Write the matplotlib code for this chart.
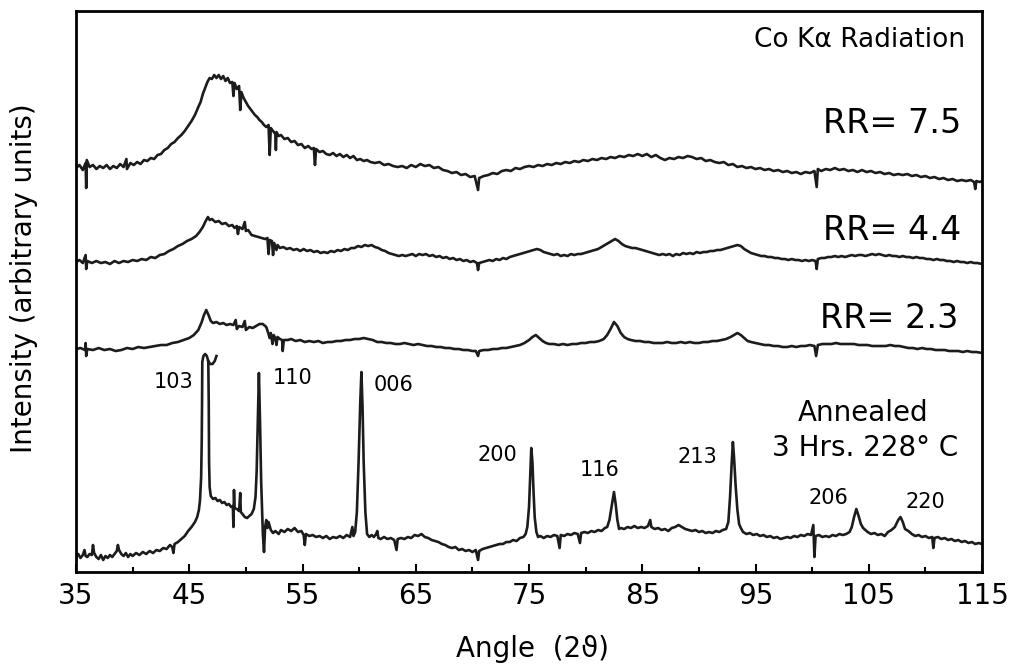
import matplotlib
matplotlib.use('Agg')
import matplotlib.pyplot as plt

rr75 = [(35.0,404),(35.3,407),(35.6,402),(35.85,409),(35.9,384),(35.95,412),(36.2,405),(36.5,407),(36.8,403),
        (37.1,406),(37.4,404),(37.7,407),(38.0,403),(38.3,406),(38.6,404),(38.9,408),(39.2,405),(39.45,413),
        (39.5,403),(39.8,409),(40.1,407),(40.4,410),(40.7,408),(41.0,412),(41.3,411),(41.6,414),(41.9,413),
        (42.2,417),(42.5,418),(42.8,422),(43.1,424),(43.4,428),(43.7,430),(44.0,434),(44.3,437),(44.6,441),
        (44.9,446),(45.2,451),(45.5,457),(45.8,465),(46.0,470),(46.2,478),(46.4,484),(46.6,490),(46.8,494),
        (47.0,493),(47.2,497),(47.4,494),(47.6,497),(47.8,493),(48.0,496),(48.2,491),(48.4,494),(48.6,489),
        (48.8,490),(48.9,476),(49.0,489),(49.2,483),(49.4,486),(49.5,462),(49.6,480),(49.8,474),(50.0,470),
        (50.2,466),(50.4,463),(50.6,460),(50.8,457),(51.0,455),(51.2,452),(51.4,450),(51.6,447),(51.8,445),
        (52.0,447),(52.1,417),(52.2,444),(52.4,441),(52.6,438),(52.65,422),(52.7,440),(52.9,436),(53.1,437),
        (53.4,433),(53.7,434),(54.0,430),(54.3,431),(54.6,427),(54.9,428),(55.2,424),(55.5,426),(55.8,423),
        (56.0,424),(56.1,407),(56.2,423),(56.5,420),(56.8,421),(57.1,418),(57.4,417),(57.7,419),(58.0,416),
        (58.3,418),(58.6,415),(58.9,417),(59.2,414),(59.5,416),(59.8,412),(60.1,413),(60.4,411),(60.7,412),
        (61.0,410),(61.4,409),(61.8,410),(62.2,407),(62.6,408),(63.0,406),(63.4,405),(63.8,406),(64.2,404),
        (64.6,407),(65.0,405),(65.4,408),(65.8,406),(66.2,407),(66.6,404),(67.0,405),(67.4,402),(67.8,401),
        (68.2,399),(68.6,400),(69.0,397),(69.4,398),(69.8,395),(70.2,396),(70.5,382),(70.6,394),(71.0,396),
        (71.4,397),(71.8,399),(72.2,398),(72.6,401),(73.0,402),(73.4,401),(73.8,404),(74.2,403),(74.6,405),
        (75.0,406),(75.4,405),(75.8,407),(76.2,406),(76.6,408),(77.0,407),(77.4,409),(77.8,408),(78.2,410),
        (78.6,409),(79.0,411),(79.4,410),(79.8,412),(80.2,411),(80.6,413),(81.0,412),(81.4,414),(81.8,413),
        (82.2,415),(82.6,414),(83.0,416),(83.4,415),(83.8,417),(84.2,416),(84.6,418),(85.0,416),(85.4,418),
        (85.8,415),(86.2,417),(86.6,414),(87.0,412),(87.4,414),(87.8,413),(88.2,415),(88.6,414),(89.0,416),
        (89.4,415),(89.8,413),(90.2,414),(90.6,411),(91.0,412),(91.4,410),(91.8,409),(92.2,410),(92.6,407),
        (93.0,408),(93.4,405),(93.8,406),(94.2,404),(94.6,405),(95.0,403),(95.4,404),(95.8,402),(96.2,403),
        (96.6,401),(97.0,402),(97.4,400),(97.8,401),(98.2,399),(98.6,400),(99.0,398),(99.4,400),(99.8,399),
        (100.2,401),(100.4,385),(100.5,403),(100.8,401),(101.2,403),(101.6,402),(102.0,404),(102.4,402),
        (102.8,403),(103.2,401),(103.6,402),(104.0,400),(104.4,402),(104.8,400),(105.2,401),(105.6,399),
        (106.0,400),(106.4,398),(106.8,399),(107.2,397),(107.6,398),(108.0,397),(108.4,398),(108.8,396),
        (109.2,397),(109.6,395),(110.0,396),(110.4,394),(110.8,395),(111.2,393),(111.6,394),(112.0,392),
        (112.4,393),(112.8,391),(113.2,392),(113.6,391),(114.0,392),(114.3,390),(114.4,383),(114.5,391),
        (114.8,390),(115.0,391)]

rr44 = [(35.0,310),(35.3,312),(35.6,309),(35.85,317),(35.9,303),(36.0,311),(36.4,309),(36.8,311),(37.2,309),
        (37.6,310),(38.0,308),(38.4,311),(38.8,309),(39.2,311),(39.6,310),(40.0,312),(40.4,311),(40.8,313),
        (41.2,312),(41.6,315),(42.0,314),(42.4,317),(42.8,318),(43.2,321),(43.6,323),(44.0,326),(44.4,328),
        (44.8,331),(45.2,333),(45.6,336),(45.9,340),(46.2,345),(46.45,351),(46.65,355),(46.8,352),(47.0,353),
        (47.3,350),(47.6,351),(47.9,348),(48.2,349),(48.5,346),(48.8,347),(49.0,344),(49.2,346),(49.3,338),
        (49.4,345),(49.7,343),(49.9,350),(50.0,341),(50.2,342),(50.5,337),(50.8,336),(51.1,335),(51.4,334),
        (51.7,333),(51.9,334),(52.0,318),(52.1,332),(52.3,331),(52.4,317),(52.5,329),(52.7,322),(52.8,327),
        (53.0,324),(53.3,325),(53.6,323),(53.9,324),(54.2,322),(54.5,323),(54.8,321),(55.1,323),(55.4,321),
        (55.7,322),(56.0,320),(56.3,321),(56.6,319),(56.9,320),(57.2,319),(57.5,321),(57.8,320),(58.1,322),
        (58.4,321),(58.7,323),(59.0,322),(59.3,324),(59.6,324),(59.9,326),(60.2,325),(60.5,327),(60.8,326),
        (61.1,327),(61.4,325),(61.7,324),(62.0,322),(62.3,321),(62.6,319),(62.9,318),(63.2,317),(63.5,316),
        (63.8,317),(64.1,316),(64.4,317),(64.7,318),(65.0,316),(65.3,318),(65.6,317),(65.9,318),(66.2,316),
        (66.5,317),(66.8,315),(67.1,316),(67.4,314),(67.7,315),(68.0,313),(68.3,314),(68.6,312),(68.9,313),
        (69.2,311),(69.5,312),(69.8,310),(70.1,311),(70.4,309),(70.5,302),(70.6,309),(70.9,310),(71.2,311),
        (71.5,312),(71.8,311),(72.1,313),(72.4,312),(72.7,314),(73.0,313),(73.3,315),(73.6,316),(73.9,317),
        (74.2,318),(74.5,319),(74.8,320),(75.1,321),(75.4,322),(75.7,323),(76.0,322),(76.3,320),(76.6,319),
        (76.9,318),(77.2,317),(77.5,318),(77.8,316),(78.1,317),(78.4,316),(78.7,318),(79.0,317),(79.3,318),
        (79.6,318),(79.9,319),(80.2,320),(80.5,321),(80.8,322),(81.1,323),(81.4,325),(81.7,327),(82.0,329),
        (82.3,331),(82.6,333),(82.9,331),(83.2,328),(83.5,326),(83.8,325),(84.1,324),(84.4,324),(84.7,323),
        (85.0,322),(85.3,321),(85.6,320),(85.9,319),(86.2,318),(86.5,317),(86.8,318),(87.1,317),(87.4,318),
        (87.7,316),(88.0,318),(88.3,317),(88.6,319),(88.9,318),(89.2,319),(89.5,318),(89.8,320),(90.1,319),
        (90.4,320),(90.7,320),(91.0,321),(91.3,321),(91.6,322),(91.9,322),(92.2,323),(92.5,324),(92.8,325),
        (93.1,326),(93.4,327),(93.7,326),(94.0,323),(94.3,321),(94.6,319),(94.9,318),(95.2,317),(95.5,316),
        (95.8,316),(96.1,315),(96.4,315),(96.7,314),(97.0,314),(97.3,313),(97.6,313),(97.9,312),(98.2,313),
        (98.5,312),(98.8,312),(99.1,311),(99.4,312),(99.7,311),(100.0,312),(100.3,311),(100.4,303),
        (100.5,313),(100.8,314),(101.1,314),(101.4,315),(101.7,315),(102.0,316),(102.3,315),(102.6,316),
        (102.9,315),(103.2,316),(103.5,317),(103.8,316),(104.1,317),(104.4,317),(104.7,316),(105.0,317),
        (105.3,318),(105.6,317),(105.9,318),(106.2,317),(106.5,316),(106.8,317),(107.1,316),(107.4,316),
        (107.7,315),(108.0,316),(108.3,315),(108.6,315),(108.9,314),(109.2,315),(109.5,314),(109.8,314),
        (110.1,313),(110.4,313),(110.7,312),(111.0,313),(111.3,312),(111.6,312),(111.9,311),(112.2,311),
        (112.5,310),(112.8,311),(113.1,310),(113.4,310),(113.7,309),(114.0,310),(114.3,309),(114.6,309),
        (115.0,308)]

rr23 = [(35.0,223),(35.4,224),(35.8,222),(35.85,229),(35.9,216),(36.0,223),(36.5,222),(37.0,224),(37.5,222),
        (38.0,223),(38.5,221),(39.0,222),(39.5,224),(40.0,223),(40.5,225),(41.0,224),(41.5,225),(42.0,226),
        (42.5,227),(43.0,227),(43.5,229),(44.0,230),(44.5,232),(45.0,234),(45.4,237),(45.8,242),(46.1,250),
        (46.3,257),(46.5,262),(46.7,257),(46.9,251),(47.1,249),(47.4,250),(47.7,248),(48.0,249),(48.3,247),
        (48.6,248),(48.9,247),(49.1,252),(49.2,243),(49.4,246),(49.7,245),(49.9,251),(50.0,242),(50.3,245),
        (50.6,244),(50.9,246),(51.2,248),(51.5,248),(51.8,245),(52.0,238),(52.1,234),(52.2,239),(52.35,228),
        (52.45,237),(52.6,234),(52.7,227),(52.8,235),(53.0,233),(53.2,232),(53.25,221),(53.35,232),(53.7,232),
        (54.0,233),(54.4,231),(54.8,232),(55.2,230),(55.6,231),(56.0,230),(56.4,231),(56.8,229),(57.2,230),
        (57.6,230),(58.0,231),(58.4,231),(58.8,232),(59.2,232),(59.6,233),(60.0,233),(60.4,234),(60.8,233),
        (61.2,232),(61.6,230),(62.0,230),(62.4,229),(62.8,229),(63.2,228),(63.6,228),(64.0,229),(64.4,228),
        (64.8,227),(65.2,228),(65.6,227),(66.0,226),(66.4,226),(66.8,225),(67.2,225),(67.6,224),(68.0,224),
        (68.4,223),(68.8,223),(69.2,222),(69.6,222),(70.0,221),(70.3,221),(70.5,216),(70.6,221),(71.0,222),
        (71.4,222),(71.8,223),(72.2,223),(72.6,224),(73.0,224),(73.4,225),(73.8,226),(74.2,227),(74.6,229),
        (75.0,232),(75.3,235),(75.6,237),(75.9,234),(76.2,231),(76.5,229),(76.8,228),(77.2,228),(77.6,227),
        (78.0,228),(78.4,227),(78.8,228),(79.2,228),(79.6,229),(80.0,229),(80.4,230),(80.8,230),(81.2,231),
        (81.6,233),(81.9,237),(82.2,243),(82.5,250),(82.8,246),(83.1,239),(83.4,235),(83.7,233),(84.0,232),
        (84.4,231),(84.8,231),(85.2,230),(85.6,230),(86.0,229),(86.4,229),(86.8,229),(87.2,230),(87.6,229),
        (88.0,229),(88.4,230),(88.8,229),(89.2,230),(89.6,229),(90.0,229),(90.4,230),(90.8,230),(91.2,231),
        (91.6,231),(92.0,232),(92.4,233),(92.8,235),(93.1,237),(93.4,239),(93.7,237),(94.0,234),(94.3,231),
        (94.6,230),(95.0,229),(95.4,228),(95.8,227),(96.2,227),(96.6,226),(97.0,226),(97.4,225),(97.8,225),
        (98.2,226),(98.6,225),(99.0,226),(99.4,226),(99.8,227),(100.2,226),(100.35,216),(100.5,227),
        (100.9,228),(101.3,228),(101.7,228),(102.1,229),(102.5,228),(102.9,228),(103.3,228),(103.7,228),
        (104.1,227),(104.5,227),(104.9,227),(105.3,226),(105.7,226),(106.1,226),(106.5,226),(106.9,227),
        (107.3,226),(107.7,226),(108.1,225),(108.5,224),(108.9,224),(109.3,223),(109.7,224),(110.1,223),
        (110.5,223),(110.9,222),(111.3,222),(111.7,222),(112.1,221),(112.5,221),(112.9,221),(113.3,220),
        (113.7,221),(114.1,220),(114.5,220),(115.0,219)]

annealed = [(35.0,15),(35.2,18),(35.4,14),(35.6,17),(35.75,22),(35.85,16),(36.0,15),(36.2,18),(36.4,17),
        (36.5,27),(36.6,19),(36.8,15),(37.0,13),(37.2,17),(37.4,12),(37.6,16),(37.8,14),(38.0,17),(38.2,15),
        (38.4,18),(38.6,21),(38.7,27),(38.8,22),(39.0,18),(39.2,16),(39.4,19),(39.6,15),(39.8,18),(40.0,16),
        (40.3,19),(40.6,17),(40.9,20),(41.2,18),(41.5,21),(41.8,19),(42.1,22),(42.4,21),(42.7,24),(43.0,23),
        (43.3,27),(43.5,25),(43.6,19),(43.7,28),(44.0,30),(44.3,33),(44.6,36),(44.9,41),(45.2,45),(45.5,50),
        (45.7,55),(45.85,62),(45.95,72),(46.05,95),(46.1,130),(46.13,170),(46.15,210),(46.25,216),(46.4,218),
        (46.55,216),(46.68,211),(46.72,170),(46.75,110),(46.8,85),(46.9,76),(47.1,73),(47.3,74),(47.5,71),
        (47.7,72),(47.9,69),(48.1,70),(48.3,67),(48.5,68),(48.7,65),(48.85,66),(48.9,45),(48.95,82),(49.0,64),
        (49.2,63),(49.4,61),(49.5,79),(49.55,60),(49.7,58),(49.9,55),(50.1,54),(50.3,56),(50.5,58),(50.7,63),
        (50.85,75),(50.95,100),(51.05,150),(51.15,199),(51.25,150),(51.35,90),(51.45,55),(51.5,38),(51.6,20),
        (51.7,45),(51.8,52),(51.9,44),(52.0,50),(52.2,42),(52.4,39),(52.6,41),(52.9,38),(53.1,42),(53.4,40),
        (53.7,43),(54.0,41),(54.3,44),(54.6,40),(54.9,41),(55.1,37),(55.2,27),(55.3,38),(55.6,36),(55.9,37),
        (56.2,35),(56.5,36),(56.8,34),(57.1,36),(57.4,33),(57.7,35),(58.0,34),(58.3,36),(58.6,34),(58.9,37),
        (59.2,35),(59.4,45),(59.5,36),(59.65,40),(59.8,60),(59.95,110),(60.1,170),(60.2,200),(60.3,165),
        (60.4,110),(60.55,60),(60.7,38),(60.9,35),(61.1,37),(61.3,35),(61.5,38),(61.6,41),(61.7,34),(61.9,33),
        (62.2,35),(62.5,33),(62.8,34),(63.1,32),(63.3,22),(63.4,33),(63.7,34),(64.0,33),(64.3,35),(64.6,34),
        (64.9,37),(65.2,36),(65.5,38),(65.8,35),(66.1,34),(66.4,32),(66.7,31),(67.0,30),(67.3,28),(67.6,27),
        (67.9,25),(68.2,24),(68.5,25),(68.8,22),(69.1,23),(69.4,21),(69.7,22),(70.0,20),(70.3,22),(70.5,12),
        (70.6,21),(70.9,23),(71.2,24),(71.5,25),(71.8,26),(72.1,27),(72.4,28),(72.7,28),(73.0,30),(73.3,30),
        (73.6,32),(73.9,31),(74.2,34),(74.5,35),(74.7,38),(74.85,45),(75.0,65),(75.1,95),(75.2,124),(75.3,110),
        (75.4,80),(75.5,55),(75.65,40),(75.8,35),(76.0,36),(76.3,34),(76.6,36),(76.9,35),(77.2,37),(77.5,36),
        (77.7,24),(77.8,37),(78.1,36),(78.4,38),(78.7,37),(79.0,39),(79.3,38),(79.5,29),(79.6,39),(79.9,40),
        (80.2,39),(80.5,41),(80.8,40),(81.1,42),(81.4,41),(81.7,44),(81.9,45),(82.1,52),(82.3,66),(82.5,80),
        (82.65,68),(82.8,52),(82.95,43),(83.1,44),(83.4,43),(83.7,45),(84.0,44),(84.3,46),(84.6,44),(84.9,45),
        (85.2,44),(85.5,46),(85.7,52),(85.8,45),(86.1,43),(86.4,44),(86.7,42),(87.0,43),(87.3,41),(87.6,44),
        (87.9,45),(88.2,47),(88.5,45),(88.8,43),(89.1,42),(89.4,41),(89.7,42),(90.0,40),(90.3,41),(90.6,39),
        (90.9,40),(91.2,39),(91.5,41),(91.8,40),(92.1,42),(92.4,43),(92.6,50),(92.75,75),(92.9,110),(93.0,130),
        (93.1,115),(93.25,85),(93.4,62),(93.55,48),(93.7,44),(93.9,40),(94.2,38),(94.5,39),(94.8,37),(95.1,38),
        (95.4,36),(95.7,37),(96.0,35),(96.3,36),(96.6,34),(96.9,35),(97.2,33),(97.5,34),(97.8,35),(98.1,34),
        (98.4,36),(98.7,35),(99.0,37),(99.3,36),(99.6,38),(99.9,37),(100.1,47),(100.2,15),(100.3,36),
        (100.6,37),(100.9,35),(101.2,36),(101.5,35),(101.8,37),(102.1,36),(102.4,38),(102.7,37),(103.0,38),
        (103.3,40),(103.5,45),(103.7,55),(103.9,63),(104.1,56),(104.3,48),(104.5,44),(104.7,42),(104.9,40),
        (105.2,38),(105.5,39),(105.8,37),(106.1,38),(106.4,36),(106.7,40),(107.0,42),(107.3,45),(107.6,52),
        (107.8,55),(108.0,50),(108.2,43),(108.5,41),(108.8,38),(109.1,36),(109.4,37),(109.7,35),(110.0,36),
        (110.3,34),(110.6,35),(110.7,24),(110.8,34),(111.1,35),(111.4,33),(111.7,34),(112.0,32),(112.3,33),
        (112.6,31),(112.9,32),(113.2,30),(113.5,31),(113.8,29),(114.1,30),(114.4,28),(114.7,29),(115.0,28)]

# hook of the break mark on top of the clipped 103 peak
cap_103 = [(46.68,211),(46.85,208),(47.05,208),(47.25,211),(47.4,216)]

# peak labels: (hkl, angle, height)
peak_labels = [('103',43.6,190),('110',54.1,194),('006',63.0,187),('200',72.2,117),
               ('116',81.2,102),('213',89.9,115),('206',101.4,74),('220',110.0,70)]

# sample labels: (text, angle, height)
sample_labels = [('RR= 7.5',113.2,449),('RR= 4.4',113.2,342),('RR= 2.3',112.9,254)]

fig = plt.figure(figsize=(10.12, 6.72), dpi=100)
ax = fig.add_axes([0.0751, 0.1488, 0.8953, 0.8348])

for tr in [rr75, rr44, rr23, annealed, cap_103]:
    x, y = zip(*tr)
    ax.plot(x, y, color='#1c1c1c', lw=1.9)

ax.set_xlim(35, 115)
ax.set_ylim(0, 561)
ax.set_xticks(range(35, 116, 10))
ax.set_xticks(range(40, 115, 10), minor=True)
ax.set_yticks([])
ax.tick_params(axis='x', which='major', direction='in', length=6, width=1.5, labelsize=20, pad=7)
ax.tick_params(axis='x', which='minor', direction='in', length=3.5, width=1.5)
for s in ax.spines.values():
    s.set_linewidth(2)

for lab, px, py in peak_labels:
    ax.text(px, py, lab, fontsize=15, ha='center', va='center')
for lab, px, py in sample_labels:
    ax.text(px, py, lab, fontsize=24, ha='right', va='center')

ax.text(113.5, 532, 'Co K\u03b1 Radiation', fontsize=19, ha='right', va='center')
ax.text(104.5, 159, 'Annealed', fontsize=20, ha='center', va='center')
ax.text(112.9, 124, '3 Hrs. 228\u00b0 C', fontsize=20, ha='right', va='center')

ax.set_xlabel('Angle  (2\u03d1)', fontsize=20)
ax.xaxis.set_label_coords(0.504, -0.112)
ax.set_ylabel('Intensity (arbitrary units)', fontsize=20)
ax.yaxis.set_label_coords(-0.042, 0.524)

plt.savefig('out.png', dpi=100)
